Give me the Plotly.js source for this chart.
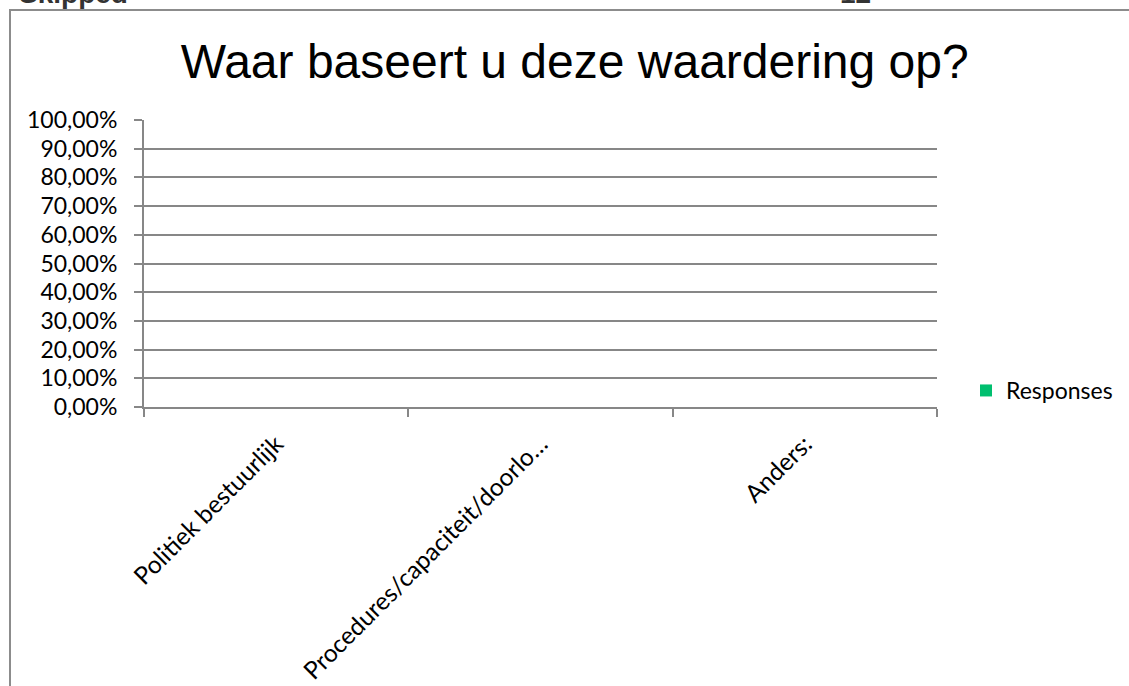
<!DOCTYPE html>
<html>
<head>
<meta charset="utf-8">
<script src="https://cdn.plot.ly/plotly-3.0.1.min.js"></script>
<style>
  html, body { margin: 0; padding: 0; background: #ffffff; overflow: hidden; }
  #chart { position: absolute; left: 0; top: 0; width: 1129px; height: 686px; }
  #frame { position: absolute; left: 9px; top: 9px; width: 1200px; height: 800px;
           border-left: 2px solid #8c8c8c; border-top: 2px solid #8c8c8c; pointer-events: none; }
</style>
</head>
<body>
<div id="chart"></div>
<div id="frame"></div>
<script>
const titleText = "Waar baseert u deze waardering op?";
const categories = ["Politiek bestuurlijk", "Procedures/capaciteit/doorlo\u2026", "Anders:"];
const responses = [0, 0, 0];
const seriesName = "Responses";
const yTickVals = [0, 0.1, 0.2, 0.3, 0.4, 0.5, 0.6, 0.7, 0.8, 0.9, 1.0];
const headerLeft = "Skipped";
const headerRight = "12";

const gray = "#878787";
const green = "#00BF6F";
const labelFont = { family: "Lato, Open Sans, sans-serif", size: 23, color: "#000000" };
const xLabelFont = { family: "Lato, Open Sans, sans-serif", size: 24.5, color: "#000000" };

const trace = {
  type: "bar",
  x: categories,
  y: responses,
  name: seriesName,
  marker: { color: green },
  showlegend: true
};

const layout = {
  width: 1129,
  height: 686,
  separators: ",.",
  paper_bgcolor: "rgba(0,0,0,0)",
  plot_bgcolor: "rgba(0,0,0,0)",
  margin: { l: 144, r: 192, t: 120, b: 279, pad: 0 },
  title: {
    text: titleText,
    font: { family: "Liberation Sans, Arial, sans-serif", size: 48, color: "#000000" },
    x: 0.509, xanchor: "center", xref: "container",
    y: 0.936, yanchor: "top", yref: "container"
  },
  xaxis: {
    type: "category",
    tickson: "boundaries",
    ticks: "outside",
    ticklen: 8,
    tickwidth: 2,
    tickcolor: gray,
    showline: true,
    linecolor: gray,
    linewidth: 2,
    showgrid: false,
    tickangle: -45,
    tickfont: xLabelFont,
    ticklabelstandoff: 11,
    automargin: false,
    fixedrange: true
  },
  yaxis: {
    range: [0, 1],
    tickvals: yTickVals,
    tickformat: ".2%",
    ticks: "outside",
    ticklen: 8,
    tickwidth: 2,
    tickcolor: gray,
    showline: true,
    linecolor: gray,
    linewidth: 2,
    showgrid: true,
    gridcolor: gray,
    gridwidth: 2,
    zeroline: false,
    tickfont: labelFont,
    ticklabelstandoff: 12,
    automargin: false,
    fixedrange: true
  },
  showlegend: true,
  legend: {
    xref: "container", yref: "container",
    x: 966 / 1129, xanchor: "left",
    y: (686 - 390.5) / 686, yanchor: "middle",
    font: labelFont,
    bgcolor: "rgba(0,0,0,0)",
    itemwidth: 30
  },
  annotations: [
    { text: "<b>" + headerLeft + "</b>", xref: "paper", yref: "paper",
      x: (17 - 144) / 793, xanchor: "left", y: (407 - 11) / 287, yanchor: "bottom",
      showarrow: false, font: { family: "Liberation Sans, Arial, sans-serif", size: 28, color: "#333333" } },
    { text: "<b>" + headerRight + "</b>", xref: "paper", yref: "paper",
      x: (873 - 144) / 793, xanchor: "right", y: (407 - 11) / 287, yanchor: "bottom",
      showarrow: false, font: { family: "Liberation Sans, Arial, sans-serif", size: 28, color: "#333333" } }
  ]
};

Plotly.newPlot("chart", [trace], layout, { displayModeBar: false, staticPlot: true });
</script>
</body>
</html>
